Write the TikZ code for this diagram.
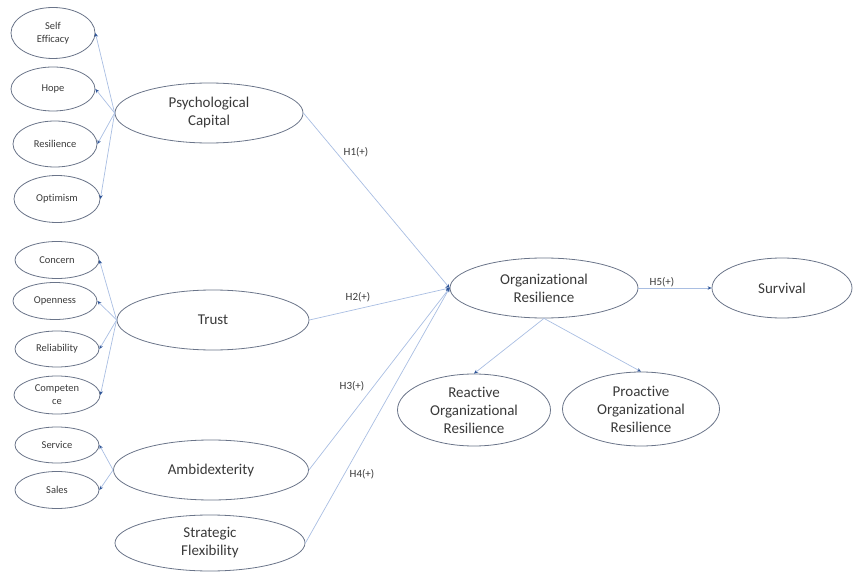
\documentclass[tikz,border=0pt]{standalone}
\usepackage{fontspec}
\setmainfont{Carlito}[Ligatures=NoCommon]
\usetikzlibrary{shapes.geometric,arrows.meta}

\definecolor{rimgray}{HTML}{6A7489}
\definecolor{linkblue}{HTML}{A9BEE2}
\definecolor{tipblue}{HTML}{2F5597}
\definecolor{txtgray}{HTML}{3A3A3A}

\begin{document}
\begin{tikzpicture}[x=1pt,y=-1pt,
  item/.style={ellipse,draw=rimgray,line width=0.8pt,inner sep=0pt,align=center,
    text=txtgray,font=\fontsize{10.5}{13}\selectfont,minimum width=84pt,minimum height=40pt},
  construct/.style={ellipse,draw=rimgray,line width=0.8pt,inner sep=0pt,align=center,
    text=txtgray,font=\fontsize{15}{18}\selectfont,minimum width=190pt,minimum height=60pt},
  link/.style={draw=linkblue,line width=0.7pt,-{Stealth[length=4pt,width=3.5pt,color=tipblue]}},
  hyp/.style={text=txtgray,font=\fontsize{11}{13}\selectfont}]
\useasboundingbox (0,0) rectangle (854,572);

% indicators of psychological capital
\node[item,minimum height=51pt] (se) at (53,33) {Self\\Efficacy};
\node[item,minimum height=44pt] (hope) at (53,89) {Hope};
\node[item,minimum height=46pt] (res) at (55,144) {Resilience};
\node[item,minimum width=86pt,minimum height=47pt] (opt) at (57,199) {Optimism};

% indicators of trust and ambidexterity
\node[item,minimum height=37pt] (con) at (57,260) {Concern};
\node[item,minimum height=37pt] (open) at (55,301) {Openness};
\node[item,minimum height=36pt] (rel) at (57,349) {Reliability};
\node[item,minimum width=86pt,minimum height=38pt] (comp) at (57,395) {Competen\\ce};
\node[item,minimum height=36pt] (serv) at (57,445) {Service};
\node[item,minimum height=37pt] (sales) at (57,490) {Sales};

% constructs
\node[construct,minimum width=188pt] (pc) at (209,113) {Psychological\\Capital};
\node[construct,minimum width=192pt] (trust) at (213,320) {Trust};
\node[construct,minimum width=195pt] (amb) at (211,470) {Ambidexterity};
\node[construct,minimum height=56pt] (sf) at (210,543) {Strategic\\Flexibility};
\node[construct,minimum width=188pt] (orgres) at (544,288) {Organizational\\Resilience};
\node[construct,minimum width=140pt] (surv) at (782,288) {Survival};
\node[construct,minimum width=153pt,minimum height=72pt] (react) at (474,410) {Reactive\\Organizational\\Resilience};
\node[construct,minimum width=157pt,minimum height=74pt] (proact) at (641,409) {Proactive\\Organizational\\Resilience};

% measurement arrows
\foreach \ind in {se,hope,res,opt}
  \draw[link] (pc.west) -- (\ind.east);
\foreach \ind in {con,open,rel,comp}
  \draw[link] (trust.west) -- (\ind.east);
\foreach \ind in {serv,sales}
  \draw[link] (amb.west) -- (\ind.east);

% hypotheses
\draw[link] (pc.east) -- (orgres.west);
\draw[link] (trust.east) -- (orgres.west);
\draw[link] (amb.east) -- (orgres.west);
\draw[link] (sf.east) -- (orgres.west);
\draw[link] (orgres.east) -- (surv.west);
\draw[link] (orgres.south) -- (react.north);
\draw[link] (orgres.south) -- (proact.north);

\node[hyp] (h1) at (356,152) {H1(+)};
\node[hyp] (h2) at (358,297) {H2(+)};
\node[hyp] (h3) at (352,386) {H3(+)};
\node[hyp] (h4) at (362,474) {H4(+)};
\node[hyp] (h5) at (662,282) {H5(+)};
\end{tikzpicture}
\end{document}
